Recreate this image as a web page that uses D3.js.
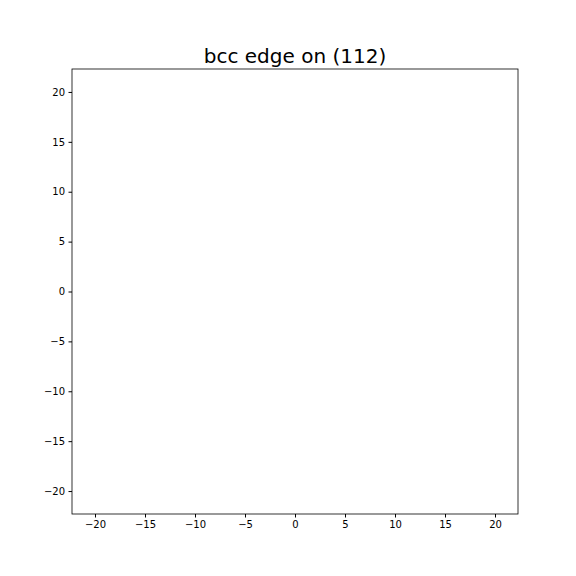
<!DOCTYPE html>
<html><head><meta charset="utf-8">
<script src="https://cdn.jsdelivr.net/npm/d3@7"></script>
<style>body{margin:0;background:#fff}text{font-family:"DejaVu Sans",sans-serif}</style>
</head><body><svg id="chart" width="576" height="576"></svg>
<script>
var title = 'bcc edge on (112)';
var xDomain = [-22.3, 22.3];
var yDomain = [-22.3, 22.3];
var xTicks = [-20, -15, -10, -5, 0, 5, 10, 15, 20];
var yTicks = [-20, -15, -10, -5, 0, 5, 10, 15, 20];

var svg = d3.select('#chart');
var plotLeft = 72, plotRight = 518, plotTop = 69, plotBottom = 514;

var x = d3.scaleLinear().domain(xDomain).range([plotLeft, plotRight]);
var y = d3.scaleLinear().domain(yDomain).range([plotBottom, plotTop]);

var fmt = d => d < 0 ? '\u2212' + Math.abs(d) : String(d);

svg.append('g').attr('transform', 'translate(0,' + plotBottom + ')')
  .call(d3.axisBottom(x).tickValues(xTicks).tickFormat(fmt).tickSizeOuter(0).tickSize(3.5).tickPadding(3.5))
  .call(g => g.select('.domain').remove())
  .call(g => g.selectAll('line').attr('stroke', '#000'))
  .selectAll('text').attr('font-size', 10).attr('fill', '#000');

svg.append('g').attr('transform', 'translate(' + plotLeft + ',0)')
  .call(d3.axisLeft(y).tickValues(yTicks).tickFormat(fmt).tickSizeOuter(0).tickSize(3.5).tickPadding(3.5))
  .call(g => g.select('.domain').remove())
  .call(g => g.selectAll('line').attr('stroke', '#000'))
  .selectAll('text').attr('font-size', 10).attr('fill', '#000');

svg.append('rect').attr('x', plotLeft).attr('y', plotTop)
  .attr('width', plotRight - plotLeft).attr('height', plotBottom - plotTop)
  .attr('fill', 'none').attr('stroke', '#000').attr('stroke-width', 0.8);

svg.append('text').attr('x', (plotLeft + plotRight) / 2).attr('y', 63)
  .attr('text-anchor', 'middle').attr('font-size', 20).text(title);
</script></body></html>
